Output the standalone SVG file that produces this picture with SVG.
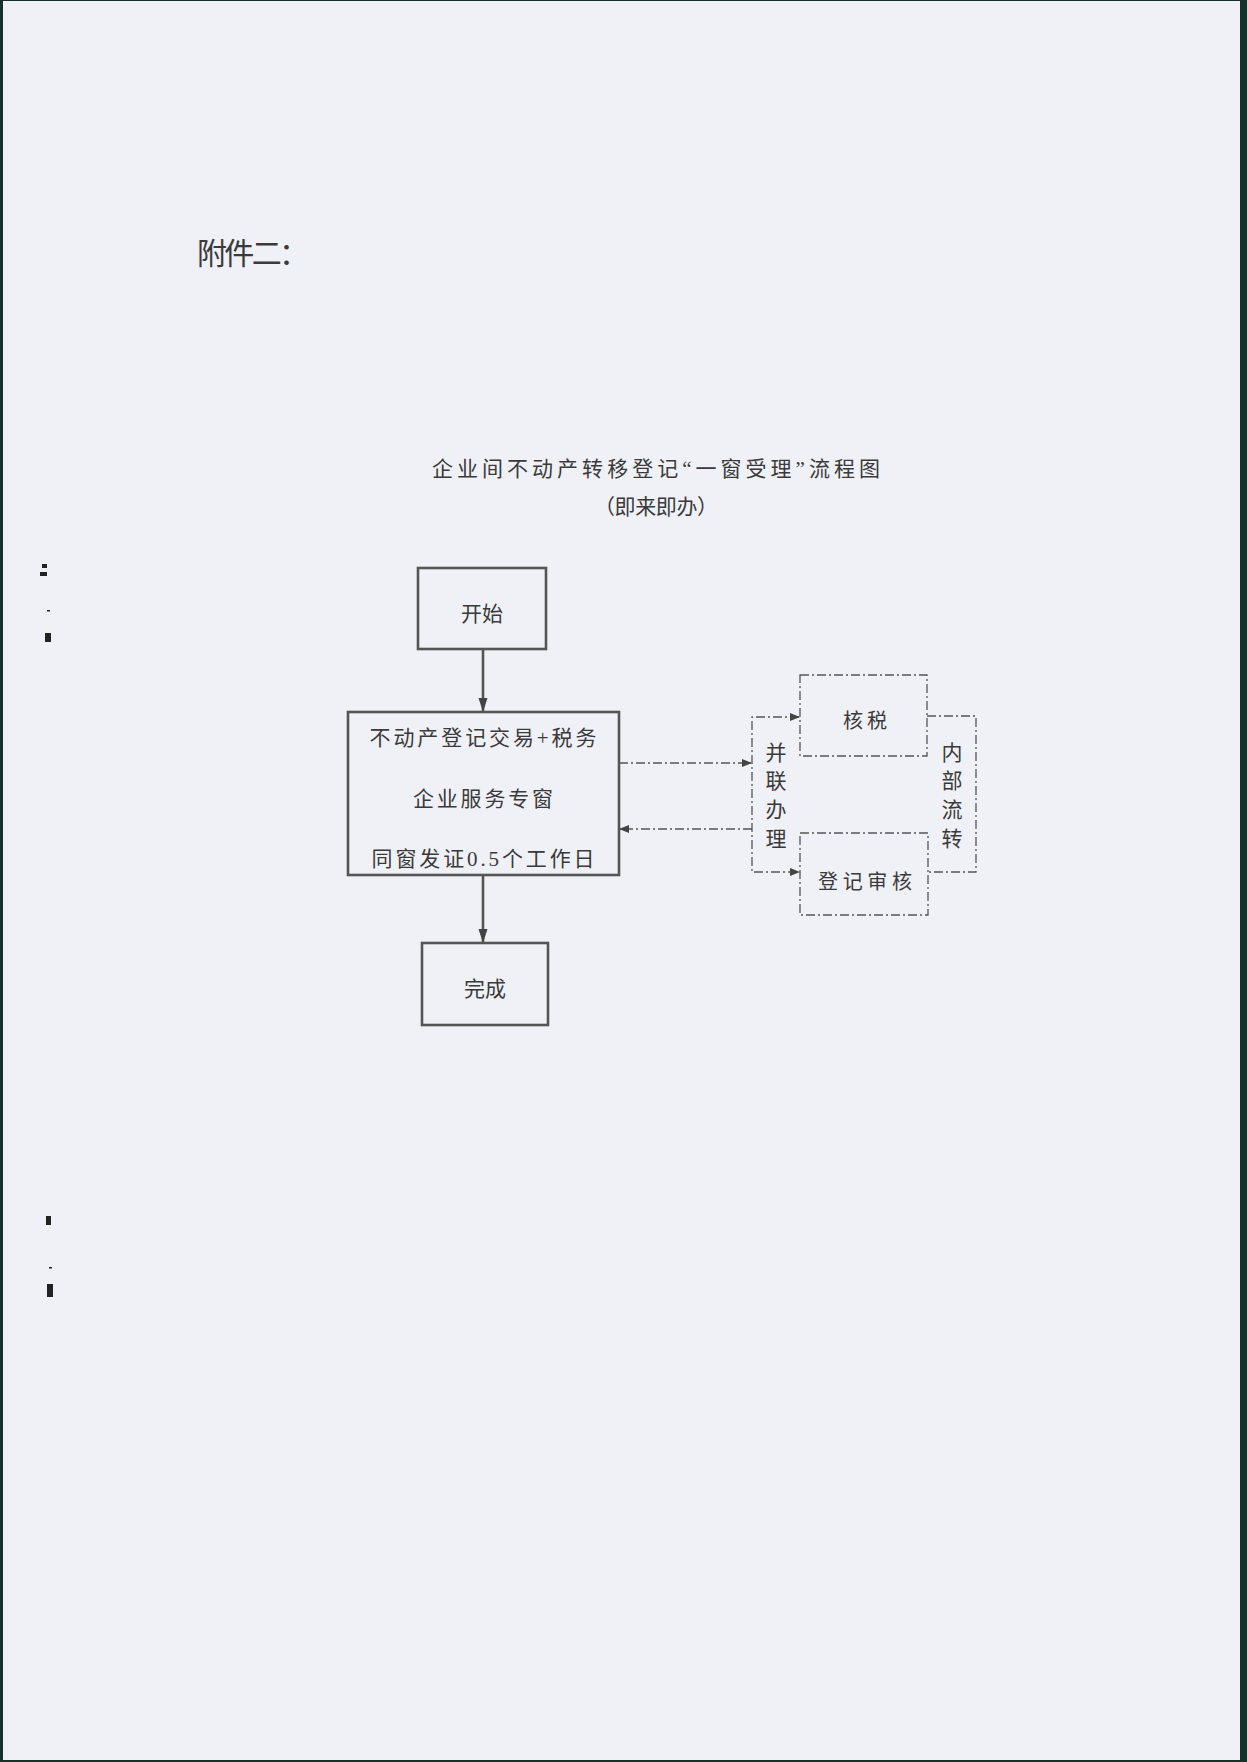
<svg xmlns="http://www.w3.org/2000/svg" width="1247" height="1762" viewBox="0 0 1247 1762">
<defs>
<style>
.t{font-family:"Liberation Serif","Noto Sans CJK SC",serif;fill:#3a3a3a;}
.solid{fill:none;stroke:#555;stroke-width:2.6;}
.dash{fill:none;stroke:#555;stroke-width:1.3;stroke-dasharray:9 3 2 3;}
.edge{fill:#16302c;}
.mark{fill:#222;}
</style>
<marker id="ah" markerWidth="10" markerHeight="10" refX="9" refY="5" orient="auto" markerUnits="userSpaceOnUse">
<path d="M0,1 L10,5 L0,9 Z" fill="#444"/>
</marker>
<marker id="ahs" markerWidth="14" markerHeight="10" refX="13" refY="5" orient="auto" markerUnits="userSpaceOnUse">
<path d="M0,0.5 L14,5 L0,9.5 Z" fill="#444"/>
</marker>
</defs>
<rect x="0" y="0" width="1247" height="1762" fill="#eff1f6"/>
<rect class="edge" x="0" y="0" width="3" height="1762"/>
<rect class="edge" x="1240" y="0" width="7" height="1762"/>
<rect class="edge" x="0" y="0" width="1247" height="1"/>
<rect class="edge" x="0" y="1760" width="1247" height="2"/>
<g id="scan-marks">
<rect class="mark" x="42" y="564" width="5" height="4"/>
<rect class="mark" x="40" y="572" width="7" height="4"/>
<rect class="mark" x="47" y="610" width="3" height="1.5"/>
<rect class="mark" x="45" y="633" width="6" height="9"/>
<rect class="mark" x="46" y="1216" width="5" height="9"/>
<rect class="mark" x="49" y="1267" width="3" height="1.5"/>
<rect class="mark" x="47" y="1284" width="6" height="13"/>
</g>

<g id="heading">
<text class="t" x="197" y="264" font-size="30" textLength="112" lengthAdjust="spacing">附件二：</text>
</g>
<g id="title">
<text class="t" x="656" y="476" font-size="21" text-anchor="middle" textLength="448" lengthAdjust="spacing">企业间不动产转移登记“一窗受理”流程图</text>
<text class="t" x="656" y="514" font-size="21" text-anchor="middle" textLength="124" lengthAdjust="spacing">（即来即办）</text>
</g>

<g id="connectors">
<line class="solid" x1="483" y1="649" x2="483" y2="711" marker-end="url(#ahs)"/>
<line class="solid" x1="483" y1="875" x2="483" y2="942" marker-end="url(#ahs)"/>
<line class="dash" x1="619" y1="763" x2="751" y2="763" marker-end="url(#ah)"/>
<line class="dash" x1="752" y1="829" x2="620" y2="829" marker-end="url(#ah)"/>
<path class="dash" d="M799,717 L752,717 L752,872 L799,872"/>
<line class="dash" x1="760" y1="717" x2="799" y2="717" marker-end="url(#ah)" stroke-dasharray="none" stroke-opacity="0"/>
<line class="dash" x1="760" y1="872" x2="799" y2="872" marker-end="url(#ah)" stroke-dasharray="none" stroke-opacity="0"/>
<path class="dash" d="M927,716 L976,716 L976,872 L928,872"/>
</g>

<g id="node-start">
<rect class="solid" x="418" y="568" width="128" height="81"/>
<text class="t" x="482" y="621" font-size="21" text-anchor="middle">开始</text>
</g>
<g id="node-window">
<rect class="solid" x="348" y="712" width="271" height="163"/>
<text class="t" x="483" y="745" font-size="21" text-anchor="middle" textLength="227" lengthAdjust="spacing">不动产登记交易+税务</text>
<text class="t" x="483" y="806" font-size="21" text-anchor="middle" textLength="140" lengthAdjust="spacing">企业服务专窗</text>
<text class="t" x="483" y="866" font-size="21" text-anchor="middle" textLength="223" lengthAdjust="spacing">同窗发证0.5个工作日</text>
</g>
<g id="node-finish">
<rect class="solid" x="422" y="943" width="126" height="82"/>
<text class="t" x="485" y="996" font-size="21" text-anchor="middle">完成</text>
</g>
<g id="node-parallel">
<text class="t" x="776" y="760" font-size="21" text-anchor="middle">并</text>
<text class="t" x="776" y="788" font-size="21" text-anchor="middle">联</text>
<text class="t" x="776" y="817" font-size="21" text-anchor="middle">办</text>
<text class="t" x="776" y="846" font-size="21" text-anchor="middle">理</text>
</g>
<g id="node-tax">
<rect class="dash" x="800" y="675" width="127" height="81"/>
<text class="t" x="865" y="728" font-size="20" text-anchor="middle" textLength="44" lengthAdjust="spacing">核税</text>
</g>
<g id="node-review">
<rect class="dash" x="800" y="833" width="128" height="82"/>
<text class="t" x="865" y="889" font-size="20" text-anchor="middle" textLength="94" lengthAdjust="spacing">登记审核</text>
</g>
<g id="node-internal">
<text class="t" x="952" y="760" font-size="21" text-anchor="middle">内</text>
<text class="t" x="952" y="788" font-size="21" text-anchor="middle">部</text>
<text class="t" x="952" y="817" font-size="21" text-anchor="middle">流</text>
<text class="t" x="952" y="846" font-size="21" text-anchor="middle">转</text>
</g>
</svg>
